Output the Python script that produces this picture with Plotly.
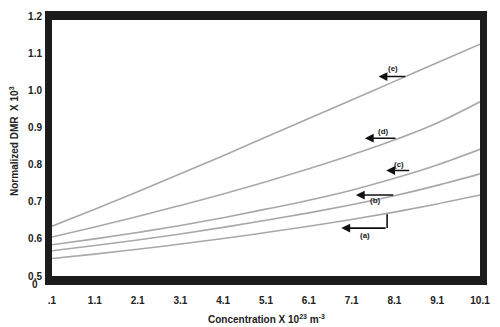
import plotly.graph_objects as go

# Concentration grid (x 10^23 m^-3)
concentration = [0.1, 1.1, 2.1, 3.1, 4.1, 5.1, 6.1, 7.1, 8.1, 9.1, 10.1]

# Normalized DMR (x 10^3) for each case
dmr_a = [0.547, 0.559, 0.572, 0.586, 0.601, 0.617, 0.634, 0.652, 0.672, 0.694, 0.718]
dmr_b = [0.568, 0.582, 0.597, 0.613, 0.631, 0.650, 0.670, 0.692, 0.716, 0.744, 0.775]
dmr_c = [0.584, 0.600, 0.617, 0.636, 0.657, 0.680, 0.704, 0.731, 0.763, 0.799, 0.841]
dmr_d = [0.605, 0.632, 0.660, 0.690, 0.721, 0.754, 0.789, 0.826, 0.866, 0.912, 0.969]
dmr_e = [0.634, 0.680, 0.727, 0.775, 0.824, 0.874, 0.924, 0.974, 1.024, 1.074, 1.124]

series = [dmr_a, dmr_b, dmr_c, dmr_d, dmr_e]

x_tick_vals = [0.1, 1.1, 2.1, 3.1, 4.1, 5.1, 6.1, 7.1, 8.1, 9.1, 10.1]
x_tick_text = [".1", "1.1", "2.1", "3.1", "4.1", "5.1", "6.1", "7.1", "8.1", "9.1", "10.1"]
y_tick_vals = [0.5, 0.6, 0.7, 0.8, 0.9, 1.0, 1.1, 1.2]
y_tick_text = ["0.5", "0.6", "0.7", "0.8", "0.9", "1.0", "1.1", "1.2"]

# Curve labels: text, label position, arrow tip, arrow tail (data coords)
labels = ["(a)", "(b)", "(c)", "(d)", "(e)"]
label_x = [7.41, 7.66, 8.20, 7.84, 8.07]
label_y = [0.610, 0.702, 0.800, 0.889, 1.058]
tip_x = [6.86, 7.20, 7.91, 7.41, 7.73]
tip_y = [0.629, 0.718, 0.784, 0.871, 1.037]
tail_x = [7.93, 8.11, 8.48, 8.16, 8.39]
# the (a) pointer comes down from a short vertical stem first
stem_top_y = 0.666

FONT = "Liberation Sans"
INK = "#222222"
FRAME = "#1c1c1c"

fig = go.Figure()
# empty companion subplot that only carries the thick frame lines
fig.add_trace(go.Scatter(x=[], y=[], xaxis="x2", yaxis="y2", showlegend=False,
                         hoverinfo="skip"))
for ys in series:
    fig.add_trace(go.Scatter(
        x=concentration, y=ys, mode="lines", line_shape="spline",
        line=dict(color="#a8a8a8", width=1.6), showlegend=False, hoverinfo="skip",
    ))

annotations = []
for t, lx, ly, txx, tyy, tlx in zip(labels, label_x, label_y, tip_x, tip_y, tail_x):
    annotations.append(dict(
        x=txx, y=tyy, ax=tlx, ay=tyy, xref="x", yref="y", axref="x", ayref="y",
        showarrow=True, arrowhead=2, arrowsize=1.1, arrowwidth=1.6,
        arrowcolor="#111111", text="",
    ))
    annotations.append(dict(
        x=lx, y=ly, xref="x", yref="y", text="<b>" + t + "</b>", showarrow=False,
        font=dict(family=FONT, size=8, color=INK),
    ))

# extra "0" under the 0.5 label (broken axis mark)
annotations.append(dict(
    x=-0.029, y=-0.034, xref="paper", yref="paper", xanchor="right", yanchor="middle",
    text="<b>0</b>", showarrow=False, font=dict(family=FONT, size=10, color=INK),
))
annotations.append(dict(
    x=0.5, y=-0.165, xref="paper", yref="paper", xanchor="center", yanchor="middle",
    text="<b>Concentration X 10<sup>23</sup> m<sup>-3</sup></b>", showarrow=False,
    font=dict(family=FONT, size=10, color=INK),
))
annotations.append(dict(
    x=-0.089, y=0.519, xref="paper", yref="paper", xanchor="center", yanchor="middle",
    textangle=-90,
    text="<b>Normalized DMR  X 10<sup>3</sup></b>", showarrow=False,
    font=dict(family=FONT, size=10, color=INK),
))

shapes = [
    # vertical stem of the (a) pointer
    dict(type="line", xref="x", yref="y", x0=tail_x[0], x1=tail_x[0],
         y0=stem_top_y, y1=tip_y[0], line=dict(color="#111111", width=1.6)),
]

fig.update_layout(
    width=500, height=327,
    margin=dict(l=52, r=10, t=10, b=51),
    paper_bgcolor="white", plot_bgcolor="rgba(0,0,0,0)",
    font=dict(family=FONT, size=10, color=INK),
    annotations=annotations, shapes=shapes,
    xaxis=dict(
        range=[0.1, 10.1], tickvals=x_tick_vals,
        ticktext=["<b>" + s + "</b>" for s in x_tick_text],
        showgrid=False, zeroline=False, showline=False,
        ticks="outside", ticklen=15, tickcolor="rgba(0,0,0,0)",
        ticklabeloverflow="allow",
        tickfont=dict(family=FONT, size=10, color=INK),
    ),
    yaxis=dict(
        range=[0.5, 1.2], tickvals=y_tick_vals,
        ticktext=["<b>" + s + "</b>" for s in y_tick_text],
        showgrid=False, zeroline=False, showline=False,
        ticks="outside", ticklen=7, tickcolor="rgba(0,0,0,0)",
        ticklabeloverflow="allow",
        tickfont=dict(family=FONT, size=10, color=INK),
    ),
    # frame: axis lines of the companion subplot, drawn just outside its domain
    xaxis2=dict(domain=[0, 1], anchor="y2", range=[0, 1], showline=True,
                mirror=True, linewidth=9, linecolor=FRAME, showgrid=False,
                zeroline=False, showticklabels=False, ticks=""),
    yaxis2=dict(domain=[0, 0.985], anchor="x2", range=[0, 1], showline=True,
                mirror=True, linewidth=7, linecolor=FRAME, showgrid=False,
                zeroline=False, showticklabels=False, ticks=""),
)

fig.write_html("out.html")
